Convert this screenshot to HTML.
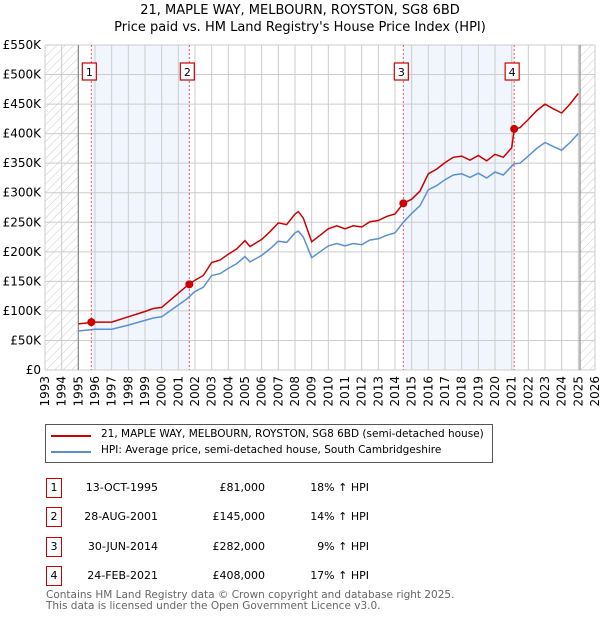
<!DOCTYPE html>
<html><head><meta charset="utf-8"><style>
body{margin:0;background:#fff;font-family:"DejaVu Sans","Liberation Sans",sans-serif;}
#wrap{position:relative;width:600px;height:620px;overflow:hidden}
.t{position:absolute;font-size:11px;color:#000;white-space:nowrap}
.badge{position:absolute;width:14px;height:18px;border:1.3px solid #c00;font-size:11px;text-align:center;line-height:18px;background:#fff}
</style></head><body><div id="wrap">
<div class="t" style="left:0;width:600px;text-align:center;top:2px;font-size:13px;line-height:17px">21, MAPLE WAY, MELBOURN, ROYSTON, SG8 6BD<br>Price paid vs. HM Land Registry's House Price Index (HPI)</div>
<svg id="chart" width="600" height="420" style="position:absolute;left:0;top:0"></svg>
<div style="position:absolute;left:45px;top:424px;width:446px;height:37px;border:1px solid #555"></div>
<div style="position:absolute;left:51px;top:435px;width:40px;height:2px;background:#c00"></div>
<div class="t" style="left:101px;top:428px;font-size:10.5px">21, MAPLE WAY, MELBOURN, ROYSTON, SG8 6BD (semi-detached house)</div>
<div style="position:absolute;left:51px;top:451px;width:40px;height:2px;background:#5b8fd4"></div>
<div class="t" style="left:101px;top:444px;font-size:10.5px">HPI: Average price, semi-detached house, South Cambridgeshire</div>
<div id="tbl"></div>
<div class="t" style="left:46px;top:590px;color:#666;line-height:11px;font-size:10.5px">Contains HM Land Registry data © Crown copyright and database right 2025.<br>This data is licensed under the Open Government Licence v3.0.</div>
</div>
<script>
const years=[1995,1996,1997,1998,1999,1999.5,2000,2000.5,2001,2001.5,2002,2002.5,2003,2003.5,2004,2004.5,2005,2005.3,2006,2006.5,2007,2007.5,2008,2008.2,2008.5,2009,2009.5,2010,2010.5,2011,2011.5,2012,2012.5,2013,2013.5,2014,2014.5,2015,2015.5,2016,2016.5,2017,2017.5,2018,2018.5,2019,2019.5,2020,2020.5,2021,2021.15,2021.5,2022,2022.5,2023,2023.5,2024,2024.5,2025];
const hpiValues=[66,69,69,76,84,88,90,100,110,120,133,140,160,163,172,180,192,183,194,205,218,216,232,235,225,190,200,210,214,210,214,212,220,222,228,232,250,265,278,305,312,322,330,332,326,333,325,335,330,345,349,350,362,375,385,378,372,385,400];
const priceValues=[78,81,81,90,99,104,106,118,130,142,152,160,182,186,196,205,219,209,221,234,249,246,264,268,257,217,228,239,244,239,244,242,251,253,260,264,282,289,303,332,340,351,360,362,355,363,354,365,360,376,408,410,424,439,450,442,435,450,468];
const saleYears=[1995.78,2001.66,2014.5,2021.15];
const salePrices=[81,145,282,408];
const saleLabels=["1","2","3","4"];
const saleDates=["13-OCT-1995","28-AUG-2001","30-JUN-2014","24-FEB-2021"];
const salePriceText=["£81,000","£145,000","£282,000","£408,000"];
const saleHpiText=["18% ↑ HPI","14% ↑ HPI","9% ↑ HPI","17% ↑ HPI"];
const yTicks=[0,50,100,150,200,250,300,350,400,450,500,550];
const yTickLabels=["£0","£50K","£100K","£150K","£200K","£250K","£300K","£350K","£400K","£450K","£500K","£550K"];
const xMin=1993,xMax=2026,x0=45,x1=595,yTop=45,yBot=370;
const X=v=>x0+(v-xMin)/(xMax-xMin)*(x1-x0);
const Y=v=>yBot-v/550*(yBot-yTop);
const svg=document.getElementById('chart');const NS='http://www.w3.org/2000/svg';
function mk(t,a,p){const e=document.createElementNS(NS,t);for(const k in a)e.setAttribute(k,a[k]);(p||svg).appendChild(e);return e;}
const defs=mk('defs',{});const pat=mk('pattern',{id:'hatch',width:6,height:6,patternUnits:'userSpaceOnUse',patternTransform:'rotate(45)'},defs);
mk('line',{x1:0,y1:0,x2:0,y2:6,stroke:'#ccc','stroke-width':1},pat);
let r=mk('rect',{x:x0,y:yTop,width:X(1995)-x0,height:yBot-yTop,fill:'url(#hatch)'});

r=mk('rect',{x:X(2025.1),y:yTop,width:x1-X(2025.1),height:yBot-yTop,fill:'url(#hatch)'});

[[0,1],[2,3]].forEach(p=>{const e=mk('rect',{x:X(saleYears[p[0]]),y:yTop,width:X(saleYears[p[1]])-X(saleYears[p[0]]),height:yBot-yTop,fill:'#eef3fc',opacity:0.8});
});
for(let y=xMin;y<=xMax;y++){const l=mk('line',{x1:X(y),x2:X(y),y1:yTop,y2:yBot,stroke:'#ccc','stroke-width':1});

const t=mk('text',{x:0,y:0,transform:`translate(${X(y)+4},${yBot+6}) rotate(-90)`,'text-anchor':'end','font-size':12,'font-family':'DejaVu Sans, Liberation Sans, sans-serif'});t.textContent=y;
}
yTicks.forEach((v,i)=>{const l=mk('line',{x1:x0,x2:x1,y1:Y(v),y2:Y(v),stroke:'#ccc','stroke-width':1});

const t=mk('text',{x:41,y:Y(v)+4,'text-anchor':'end','font-size':12,'font-family':'DejaVu Sans, Liberation Sans, sans-serif'});t.textContent=yTickLabels[i];
});
[1995,2025.1].forEach(v=>{const l=mk('line',{x1:X(v),x2:X(v),y1:yTop,y2:yBot,stroke:'#888','stroke-width':1.2});
});
saleYears.forEach((v,i)=>{const l=mk('line',{x1:X(v),x2:X(v),y1:yTop,y2:yBot,stroke:'#e55','stroke-width':1,'stroke-dasharray':'2,2'});

const bx=mk('rect',{x:X(v)-9,y:63,width:14,height:17,fill:'#fff',stroke:'#c00','stroke-width':1.2});

const t=mk('text',{x:X(v)-2,y:76,'text-anchor':'middle','font-size':11,'font-family':'DejaVu Sans, sans-serif'});t.textContent=saleLabels[i];
});
const pts=(a)=>years.map((y,i)=>X(y).toFixed(1)+','+Y(a[i]).toFixed(1)).join(' ');
let pl=mk('polyline',{points:pts(hpiValues),fill:'none',stroke:'#5b8fd4','stroke-width':1.5});

pl=mk('polyline',{points:pts(priceValues),fill:'none',stroke:'#c00','stroke-width':1.5});

saleYears.forEach((v,i)=>{const c=mk('circle',{cx:X(v),cy:Y(salePrices[i]),r:4,fill:'#c00'});
});
const tbl=document.getElementById('tbl');const rowsY=[478,507,537,566];
saleDates.forEach((d,i)=>{const y=rowsY[i];
const b=document.createElement('div');b.className='badge';b.style.left='46px';b.style.top=y+'px';b.textContent=saleLabels[i];
tbl.appendChild(b);
[[d,158],[salePriceText[i],265],[saleHpiText[i],369]].forEach((c,j)=>{const e=document.createElement('div');e.className='t';
e.style.right=(600-c[1])+'px';e.style.top=(y+3)+'px';e.textContent=c[0];

tbl.appendChild(e);});});
</script></body></html>
